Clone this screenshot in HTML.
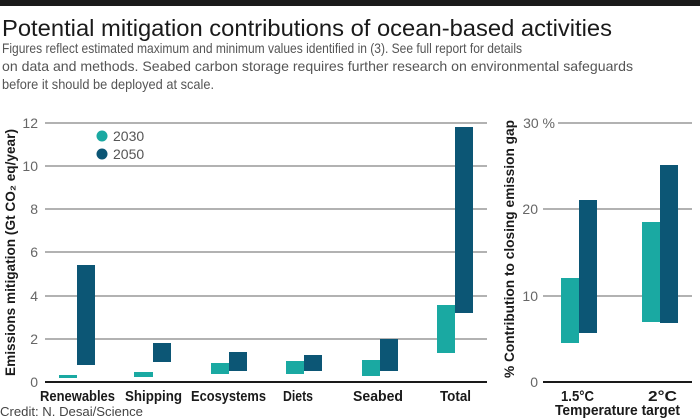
<!DOCTYPE html>
<html><head><meta charset="utf-8"><style>body{margin:0;background:#fff}svg{display:block}text{font-family:"Liberation Sans",sans-serif}</style></head><body>
<svg width="700" height="420" xmlns="http://www.w3.org/2000/svg">
<rect x="0" y="0" width="700" height="6" fill="#1a1a1a"/>
<text x="2" y="36" font-size="23" fill="#1a1a1a" textLength="610" lengthAdjust="spacingAndGlyphs">Potential mitigation contributions of ocean-based activities</text>
<g font-size="14" fill="#555">
<text x="2" y="53" textLength="520" lengthAdjust="spacingAndGlyphs">Figures reflect estimated maximum and minimum values identified in (3). See full report for details</text>
<text x="2" y="71" textLength="631" lengthAdjust="spacingAndGlyphs">on data and methods. Seabed carbon storage requires further research on environmental safeguards</text>
<text x="2" y="89" textLength="212" lengthAdjust="spacingAndGlyphs">before it should be deployed at scale.</text>
</g>
<g stroke="#999" stroke-width="1.5">
<line x1="45" y1="123" x2="487" y2="123"/><line x1="45" y1="166" x2="487" y2="166"/><line x1="45" y1="209" x2="487" y2="209"/><line x1="45" y1="252" x2="487" y2="252"/><line x1="45" y1="296" x2="487" y2="296"/><line x1="45" y1="339" x2="487" y2="339"/>
<line x1="558" y1="123" x2="692" y2="123"/><line x1="543" y1="209" x2="692" y2="209"/><line x1="543" y1="296" x2="692" y2="296"/>
</g>
<line x1="45" y1="382" x2="487" y2="382" stroke="#1a1a1a" stroke-width="2"/>
<line x1="543" y1="382" x2="692" y2="382" stroke="#1a1a1a" stroke-width="2"/>
<g font-size="14" fill="#666" text-anchor="end">
<text x="38" y="128">12</text><text x="38" y="171">10</text><text x="38" y="214">8</text><text x="38" y="257">6</text><text x="38" y="301">4</text><text x="38" y="344">2</text><text x="38" y="387">0</text>
<text x="555" y="128">30 %</text><text x="538" y="214">20</text><text x="538" y="301">10</text><text x="538" y="387">0</text>
</g>
<text transform="translate(15,253) rotate(-90)" x="-123" font-size="14" font-weight="bold" fill="#1a1a1a" textLength="247" lengthAdjust="spacingAndGlyphs">Emissions mitigation (Gt CO₂ eq/year)</text>
<text transform="translate(514,249) rotate(-90)" x="-129" font-size="14" font-weight="bold" fill="#1a1a1a" textLength="258" lengthAdjust="spacingAndGlyphs">% Contribution to closing emission gap</text>
<g fill="#1aa9a2">
<rect x="59" y="375" width="18" height="3"/><rect x="134" y="372" width="19" height="5"/><rect x="211" y="363" width="18" height="11"/><rect x="286" y="361" width="18" height="13"/><rect x="362" y="360" width="18" height="16"/><rect x="437" y="305" width="18" height="48"/>
<rect x="561" y="278" width="18" height="65"/><rect x="642" y="222" width="18" height="100"/>
</g>
<g fill="#0c5675">
<rect x="77" y="265" width="18" height="100"/><rect x="153" y="343" width="18" height="19"/><rect x="229" y="352" width="18" height="19"/><rect x="304" y="355" width="18" height="16"/><rect x="380" y="339" width="18" height="32"/><rect x="455" y="127" width="18" height="186"/>
<rect x="579" y="200" width="18" height="133"/><rect x="660" y="165" width="18" height="158"/>
</g>
<circle cx="102" cy="136" r="5.5" fill="#1aa9a2"/><circle cx="102" cy="154" r="5.5" fill="#0c5675"/>
<g font-size="14" fill="#555"><text x="113" y="141">2030</text><text x="113" y="159">2050</text></g>
<g font-size="15" font-weight="bold" fill="#1a1a1a" lengthAdjust="spacingAndGlyphs">
<text x="40" y="401" textLength="75" lengthAdjust="spacingAndGlyphs">Renewables</text>
<text x="125" y="401" textLength="57" lengthAdjust="spacingAndGlyphs">Shipping</text>
<text x="191" y="401" textLength="75" lengthAdjust="spacingAndGlyphs">Ecosystems</text>
<text x="283" y="401" textLength="30" lengthAdjust="spacingAndGlyphs">Diets</text>
<text x="353" y="401" textLength="50" lengthAdjust="spacingAndGlyphs">Seabed</text>
<text x="440" y="401" textLength="31" lengthAdjust="spacingAndGlyphs">Total</text>
<text x="561" y="401" textLength="33" lengthAdjust="spacingAndGlyphs">1.5°C</text>
<text x="648" y="401" textLength="29" lengthAdjust="spacingAndGlyphs">2°C</text>
<text x="555" y="415" textLength="125" lengthAdjust="spacingAndGlyphs">Temperature target</text>
</g>
<text x="0" y="416" font-size="13" fill="#444" textLength="143" lengthAdjust="spacingAndGlyphs">Credit: N. Desai/Science</text>
</svg>
</body></html>
